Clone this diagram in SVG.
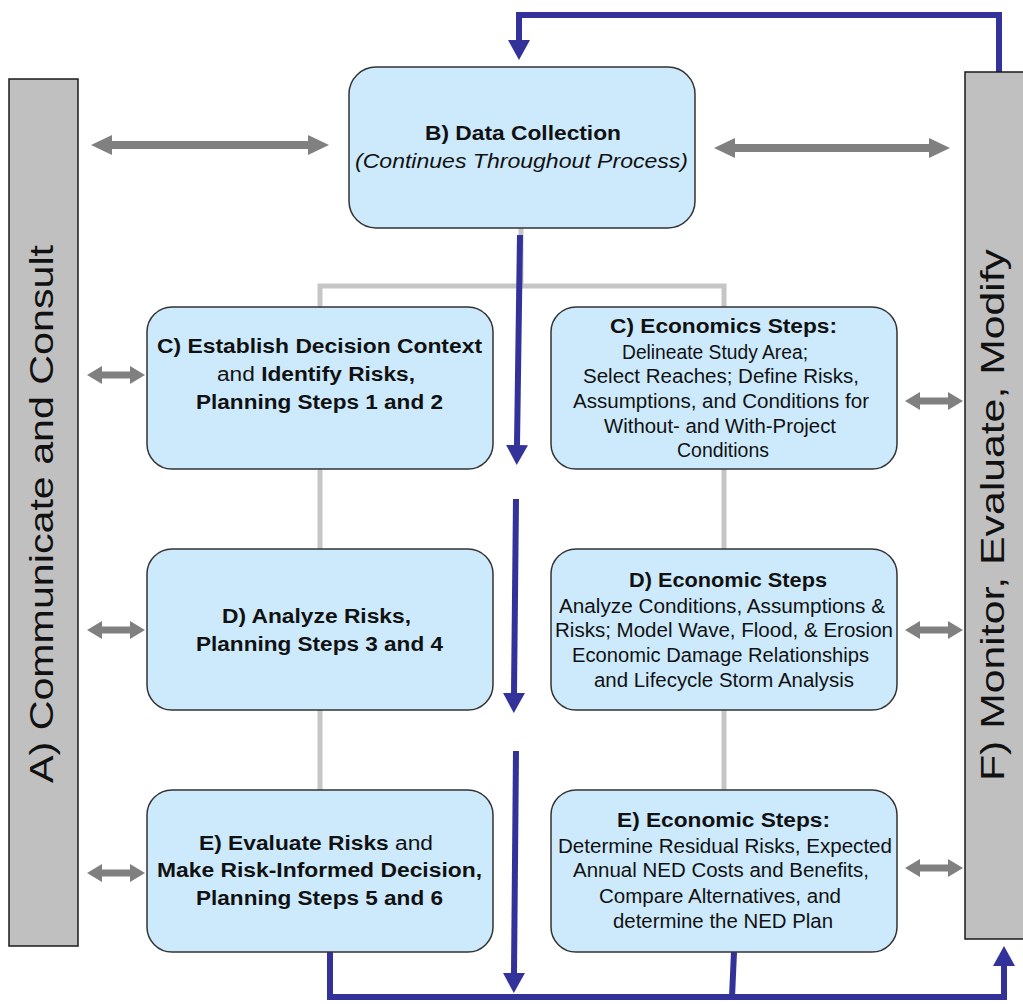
<svg xmlns="http://www.w3.org/2000/svg" width="1023" height="1004" viewBox="0 0 1023 1004">
<style>
.bar{fill:#c0c0c0;stroke:#1a1a1a;stroke-width:1.5}
.node{fill:#cdeafc;stroke:#333;stroke-width:1.5}
.t{font-family:"Liberation Sans",Arial,sans-serif;font-size:19.5px;fill:#111;text-anchor:middle}
.b{font-weight:bold}
.bt{font-family:"Liberation Sans",Arial,sans-serif;font-size:34px;fill:#111;text-anchor:middle}
.gl{fill:none;stroke:#c6c6c6;stroke-width:5}
.bl{fill:none;stroke:#32329a;stroke-width:6;stroke-linejoin:miter}
.ga{fill:#808080}
</style>
<defs>
<marker id="bh" viewBox="0 0 20 22" refX="0" refY="11" markerWidth="20" markerHeight="22" markerUnits="userSpaceOnUse" orient="auto">
<path d="M0,0 L20,11 L0,22 Z" fill="#32329a"/>
</marker>
<path id="dbl" d="M0,0 L15,-9 L15,-3.5 L43,-3.5 L43,-9 L58,0 L43,9 L43,3.5 L15,3.5 L15,9 Z"/>
</defs>

<g id="connectors">
<path class="gl" d="M521,227 L521,286"/>
<path class="gl" d="M320,790 L320,286 L724,286 L724,790"/>
<path class="bl" d="M999,72 L999,15 L519,15 L519,40" marker-end="url(#bh)"/>
<path class="bl" d="M520,235 L517,445" marker-end="url(#bh)"/>
<path class="bl" d="M516,499 L514,693" marker-end="url(#bh)"/>
<path class="bl" d="M516,751 L514,973" marker-end="url(#bh)"/>
<path class="bl" d="M330,952 L330,997 L1004,997 L1004,966" marker-end="url(#bh)"/>
<path class="bl" d="M734,952 L732,997"/>
<path class="ga" d="M91,145 L112,135 L112,141 L308,141 L308,135 L329,145 L308,155 L308,149 L112,149 L112,155 Z"/>
<path class="ga" d="M714,148 L735,138 L735,144 L929,144 L929,138 L950,148 L929,158 L929,152 L735,152 L735,158 Z"/>
<use href="#dbl" class="ga" transform="translate(87,375)"/>
<use href="#dbl" class="ga" transform="translate(87,630)"/>
<use href="#dbl" class="ga" transform="translate(87,873)"/>
<use href="#dbl" class="ga" transform="translate(905,401)"/>
<use href="#dbl" class="ga" transform="translate(905,630)"/>
<use href="#dbl" class="ga" transform="translate(905,868)"/>
</g>

<g id="nodeA">
<rect class="bar" x="9" y="79" width="69" height="867"/>
<text class="bt" transform="translate(53,514) rotate(-90)" textLength="538" lengthAdjust="spacingAndGlyphs">A) Communicate and Consult</text>
</g>

<g id="nodeF">
<rect class="bar" x="965" y="72" width="70" height="867"/>
<text class="bt" transform="translate(1004,515) rotate(-90)" textLength="532" lengthAdjust="spacingAndGlyphs">F) Monitor, Evaluate, Modify</text>
</g>

<g id="nodeB">
<rect class="node" x="349" y="67" width="346" height="161" rx="27"/>
<text class="t b" x="523" y="140" textLength="196" lengthAdjust="spacingAndGlyphs">B) Data Collection</text>
<text class="t" x="521.5" y="168" font-style="italic" textLength="333" lengthAdjust="spacingAndGlyphs">(Continues Throughout Process)</text>
</g>

<g id="nodeC1">
<rect class="node" x="147" y="307" width="346" height="162" rx="25"/>
<text class="t b" x="319.5" y="353" textLength="325" lengthAdjust="spacingAndGlyphs">C) Establish Decision Context</text>
<text class="t" x="316" y="381" textLength="198" lengthAdjust="spacingAndGlyphs">and <tspan class="b">Identify Risks,</tspan></text>
<text class="t b" x="319.5" y="409" textLength="247" lengthAdjust="spacingAndGlyphs">Planning Steps 1 and 2</text>
</g>

<g id="nodeC2">
<rect class="node" x="551" y="307" width="346" height="162" rx="25"/>
<text class="t b" x="723.5" y="333" textLength="227" lengthAdjust="spacingAndGlyphs">C) Economics Steps:</text>
<text class="t" x="715" y="359" textLength="186" lengthAdjust="spacingAndGlyphs">Delineate Study Area;</text>
<text class="t" x="721" y="383" textLength="276" lengthAdjust="spacingAndGlyphs">Select Reaches; Define Risks,</text>
<text class="t" x="721" y="408" textLength="296" lengthAdjust="spacingAndGlyphs">Assumptions, and Conditions  for</text>
<text class="t" x="720" y="433" textLength="232" lengthAdjust="spacingAndGlyphs">Without- and With-Project</text>
<text class="t" x="723" y="457" textLength="92" lengthAdjust="spacingAndGlyphs">Conditions</text>
</g>

<g id="nodeD1">
<rect class="node" x="147" y="549" width="346" height="161" rx="25"/>
<text class="t b" x="316.5" y="623" textLength="189" lengthAdjust="spacingAndGlyphs">D) Analyze Risks,</text>
<text class="t b" x="319.5" y="651" textLength="247" lengthAdjust="spacingAndGlyphs">Planning Steps 3 and 4</text>
</g>

<g id="nodeD2">
<rect class="node" x="551" y="549" width="346" height="161" rx="25"/>
<text class="t b" x="728" y="587" textLength="198" lengthAdjust="spacingAndGlyphs">D) Economic Steps</text>
<text class="t" x="722" y="613" textLength="326" lengthAdjust="spacingAndGlyphs">Analyze Conditions,  Assumptions  &amp;</text>
<text class="t" x="724" y="637" textLength="338" lengthAdjust="spacingAndGlyphs">Risks; Model Wave, Flood, &amp; Erosion</text>
<text class="t" x="720.5" y="662" textLength="297" lengthAdjust="spacingAndGlyphs">Economic Damage Relationships</text>
<text class="t" x="724" y="687" textLength="260" lengthAdjust="spacingAndGlyphs">and Lifecycle Storm Analysis</text>
</g>

<g id="nodeE1">
<rect class="node" x="147" y="790" width="346" height="162" rx="25"/>
<text class="t" x="316" y="850" textLength="234" lengthAdjust="spacingAndGlyphs"><tspan class="b">E) Evaluate Risks</tspan> and</text>
<text class="t b" x="319.5" y="877" textLength="325" lengthAdjust="spacingAndGlyphs">Make Risk-Informed Decision,</text>
<text class="t b" x="319.5" y="905" textLength="247" lengthAdjust="spacingAndGlyphs">Planning Steps 5 and 6</text>
</g>

<g id="nodeE2">
<rect class="node" x="551" y="790" width="346" height="162" rx="25"/>
<text class="t b" x="723.5" y="827" textLength="213" lengthAdjust="spacingAndGlyphs">E) Economic Steps:</text>
<text class="t" x="725" y="853" textLength="334" lengthAdjust="spacingAndGlyphs">Determine Residual  Risks, Expected</text>
<text class="t" x="721" y="877" textLength="296" lengthAdjust="spacingAndGlyphs">Annual NED Costs and Benefits,</text>
<text class="t" x="720" y="903" textLength="242" lengthAdjust="spacingAndGlyphs">Compare Alternatives, and</text>
<text class="t" x="723" y="928" textLength="220" lengthAdjust="spacingAndGlyphs">determine the NED Plan</text>
</g>
</svg>
